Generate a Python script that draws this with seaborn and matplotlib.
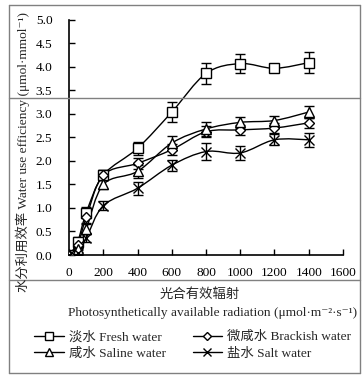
import numpy as np
import seaborn as sns
import matplotlib.pyplot as plt
from matplotlib.path import Path
from matplotlib.patches import PathPatch
from matplotlib.lines import Line2D

par = [0, 50, 100, 200, 400, 600, 800, 1000, 1200, 1400]

fresh = [0.0, 0.28, 0.90, 1.70, 2.27, 3.04, 3.86, 4.07, 3.97, 4.09]
fresh_err = [0.03, 0.10, 0.12, 0.10, 0.14, 0.21, 0.22, 0.21, 0.08, 0.22]
brackish = [0.0, 0.22, 0.80, 1.70, 1.95, 2.24, 2.62, 2.66, 2.70, 2.81]
brackish_err = [0.03, 0.08, 0.12, 0.10, 0.12, 0.12, 0.12, 0.10, 0.10, 0.10]
saline = [0.0, 0.12, 0.55, 1.50, 1.78, 2.38, 2.68, 2.82, 2.86, 3.04]
saline_err = [0.03, 0.06, 0.10, 0.10, 0.14, 0.14, 0.14, 0.12, 0.10, 0.12]
salt = [0.0, 0.05, 0.36, 1.05, 1.42, 1.91, 2.20, 2.17, 2.45, 2.45]
salt_err = [0.03, 0.05, 0.08, 0.10, 0.14, 0.12, 0.18, 0.15, 0.12, 0.15]

labels = ['淡水 Fresh water', '微咸水 Brackish water', '咸水 Saline water', '盐水 Salt water']
markers = ['s', 'D', '^', 'x']
msizes = [7, 5.5, 6.5, 7]

fam = ['Liberation Serif', 'Noto Sans CJK SC', 'DejaVu Serif']
fs = 9.6

sns.set_style('ticks')
plt.rcParams['font.family'] = fam


def smooth_path(x, y):
    pts = np.column_stack([x, y]).astype(float)
    n = len(pts)
    verts = [pts[0]]
    codes = [Path.MOVETO]
    for i in range(n - 1):
        p0 = pts[max(i - 1, 0)]
        p1 = pts[i]
        p2 = pts[i + 1]
        p3 = pts[min(i + 2, n - 1)]
        verts += [p1 + (p2 - p0) / 6, p2 - (p3 - p1) / 6, p2]
        codes += [Path.CURVE4] * 3
    return Path(verts, codes)


fig = plt.figure(figsize=(3.64, 3.75), dpi=100)
ax = fig.add_axes([0.19, 0.32, 0.752, 0.627])

series = [(fresh, fresh_err), (brackish, brackish_err), (saline, saline_err), (salt, salt_err)]
for (vals, errs), m, ms in zip(series, markers, msizes):
    ax.add_patch(PathPatch(smooth_path(par, vals), fill=False, edgecolor='black', lw=1.0, zorder=2))
    ax.errorbar(par, vals, yerr=errs, fmt='none', ecolor='black', elinewidth=1.0,
                capsize=3.5, capthick=1.0, zorder=3)
    sns.lineplot(x=par, y=vals, ax=ax, marker=m, linestyle='', color='black',
                 mfc='white', mec='black', ms=ms, mew=1.0, errorbar=None, zorder=4)

ax.set_xlim(0, 1600)
ax.set_ylim(0, 5.0)
ax.set_xticks(np.arange(0, 1601, 200))
ax.set_yticks(np.arange(0, 5.01, 0.5))
ax.set_yticklabels([f'{v:.1f}' for v in np.arange(0, 5.01, 0.5)])
ax.tick_params(direction='in', length=4, width=1, labelsize=fs, colors='black')
ax.tick_params(axis='y', pad=12)
ax.tick_params(axis='x', pad=9)
for s in ['top', 'right']:
    ax.spines[s].set_visible(False)
for s in ['left', 'bottom']:
    ax.spines[s].set_linewidth(1.2)
    ax.spines[s].set_color('black')
ax.set_xlabel('')
ax.set_ylabel('')

fig.text(0.062, 0.595, '水分利用效率 Water use efficiency (μmol·mmol⁻¹)',
         rotation=90, ha='center', va='center', fontsize=fs)
fig.text(0.548, 0.213, '光合有效辐射', ha='center', va='center', fontsize=fs)
fig.text(0.583, 0.165, 'Photosynthetically available radiation (μmol·m⁻²·s⁻¹)',
         ha='center', va='center', fontsize=fs)

handles = [Line2D([], [], color='black', lw=1.0, marker=m, mfc='white', mec='black',
                  ms=ms * 0.8, mew=1.0) for m, ms in zip(markers, msizes)]
order = [0, 2, 1, 3]
fig.legend([handles[i] for i in order], [labels[i] for i in order], ncol=2, loc='center',
           bbox_to_anchor=(0.53, 0.079), frameon=False, fontsize=fs, handlelength=2.2,
           handletextpad=0.4, columnspacing=2.0, labelspacing=0.3, borderpad=0)

# frame and separator lines of the original figure cell
gray = '#808080'
for yy in [1 - 5 / 375, 1 - 98 / 375, 1 - 280 / 375, 1 - 373 / 375]:
    fig.add_artist(Line2D([9 / 364, 360 / 364], [yy, yy], color=gray, lw=1.0))
for xx in [9 / 364, 360 / 364]:
    fig.add_artist(Line2D([xx, xx], [1 - 5 / 375, 1 - 373 / 375], color=gray, lw=1.0))

fig.savefig('out.png', dpi=100)
